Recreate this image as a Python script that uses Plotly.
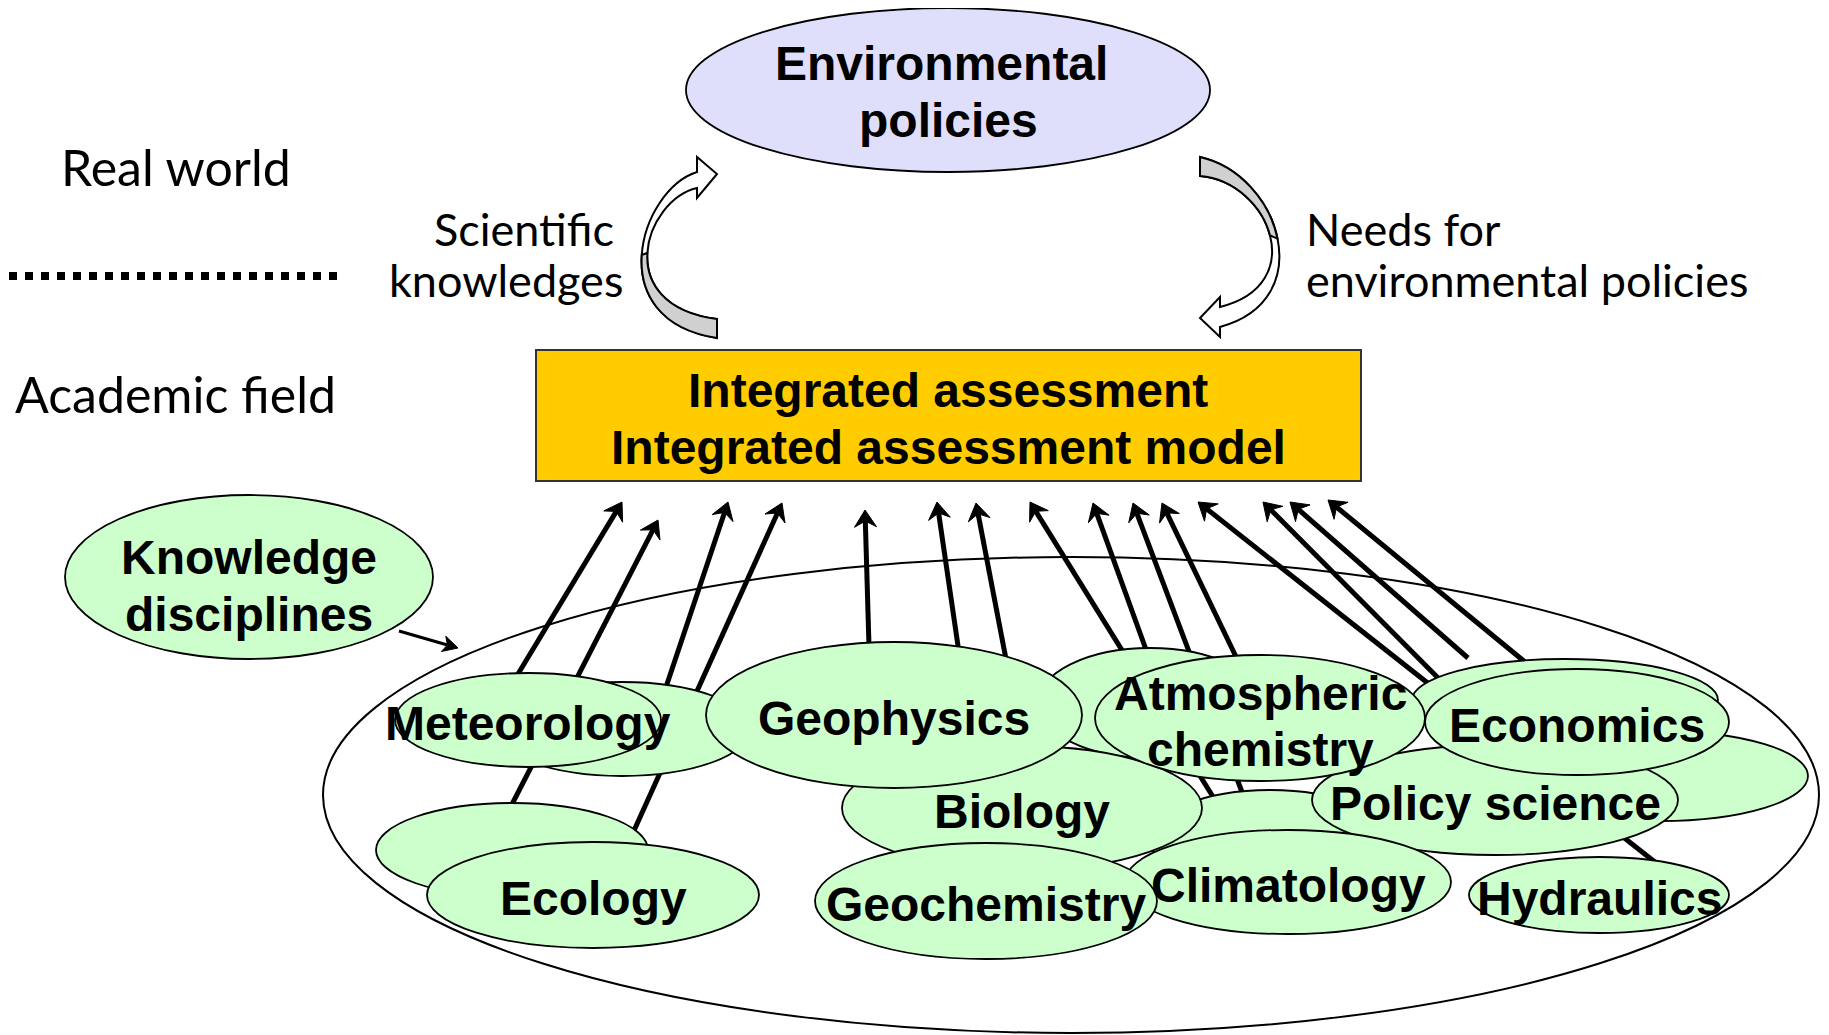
import math
import plotly.graph_objects as go

W, H = 1829, 1035
OFF = 8  # browser default body margin; the figure is shifted by this amount

# ---------------- text content ----------------
env_lines = ["Environmental", "policies"]
box_lines = ["Integrated assessment", "Integrated assessment model"]
side_labels = ["Real world", "Academic field"]
left_flow = ["Scientific", "knowledges"]
right_flow = ["Needs for", "environmental policies"]
kd_lines = ["Knowledge", "disciplines"]

# ---------------- discipline ellipses (back to front) ----------------
disc_label = ["", "Meteorology", "", "Ecology", "", "", "Biology", "Geophysics",
              "", "", "Policy science", "Atmospheric<br>chemistry", "Economics",
              "Climatology", "Geochemistry", "Hydraulics"]
disc_cx = [622, 528, 512, 593, 1150, 1270, 1022, 894, 1565, 1660, 1495, 1260, 1577, 1288, 986, 1599]
disc_cy = [729, 720, 850, 895, 703, 840, 808, 715, 700, 776, 800, 718, 722, 882, 901, 895]
disc_rx = [128, 133, 136, 166, 112, 120, 180, 188, 153, 148, 183, 165, 152, 163, 171, 130]
disc_ry = [47, 47, 47, 53, 55, 50, 62, 73, 41, 45, 55, 63, 53, 52, 58, 38]

# ---------------- arrows from disciplines to the IA box ----------------
arr_tip_x = [622, 658, 728, 782, 865, 937, 976, 1030, 1093, 1133, 1162, 1198, 1263, 1290, 1328]
arr_tip_y = [502, 520, 502, 503, 510, 502, 503, 502, 503, 503, 503, 502, 502, 502, 500]
arr_base_x = [498, 508, 660, 632, 870, 963, 1010, 1215, 1157, 1245, 1252, 1665, 1460, 1468, 1525]
arr_base_y = [707, 812, 705, 835, 680, 680, 680, 800, 680, 800, 690, 870, 700, 658, 662]

FONT_B = "Liberation Sans, Arial, sans-serif"
FONT_C = "Lato, Carlito, Calibri, sans-serif"

shapes = []
annotations = []


def ellipse(cx, cy, rx, ry, fill, lw=1.8, color="black"):
    return dict(type="circle", xref="x", yref="y", x0=cx - rx, x1=cx + rx,
                y0=cy - ry, y1=cy + ry, fillcolor=fill,
                line=dict(color=color, width=lw), layer="above")


def text(x, y, s, size, bold=True, xanchor="center", family=None):
    annotations.append(dict(x=x, y=y, xref="x", yref="y", text=(f"<b>{s}</b>" if bold else s),
                            showarrow=False, xanchor=xanchor, yanchor="middle",
                            font=dict(family=family or (FONT_B if bold else FONT_C),
                                      size=size, color="black")))


def head_path(tx, ty, bx, by, L=17, hw=11, notch=6):
    dx, dy = tx - bx, ty - by
    n = math.hypot(dx, dy)
    ux, uy = dx / n, dy / n
    px, py = -uy, ux
    cx, cy = tx - ux * L, ty - uy * L
    nx, ny = tx - ux * (L - notch), ty - uy * (L - notch)
    pts = [(tx, ty), (cx + px * hw, cy + py * hw), (nx, ny), (cx - px * hw, cy - py * hw)]
    return "M " + " L ".join(f"{x:.1f},{y:.1f}" for x, y in pts) + " Z", (nx, ny)


def arrow(bx, by, tx, ty, lw=5, L=17, hw=11, notch=6):
    p, (nx, ny) = head_path(tx, ty, bx, by, L, hw, notch)
    shapes.append(dict(type="line", xref="x", yref="y", x0=bx, y0=by, x1=nx, y1=ny,
                       line=dict(color="black", width=lw), layer="above"))
    shapes.append(dict(type="path", xref="x", yref="y", path=p, fillcolor="black",
                       line=dict(color="black", width=1), layer="above"))


# big container ellipse
shapes.append(dict(type="circle", xref="x", yref="y", x0=1071 - 748, x1=1071 + 748,
                   y0=795 - 238, y1=795 + 238, fillcolor="rgba(0,0,0,0)",
                   line=dict(color="black", width=2), layer="above"))

# discipline arrows (under the ellipses)
for bx, by, tx, ty in zip(arr_base_x, arr_base_y, arr_tip_x, arr_tip_y):
    arrow(bx, by, tx, ty)

# discipline ellipses
for cx, cy, rx, ry in zip(disc_cx, disc_cy, disc_rx, disc_ry):
    shapes.append(ellipse(cx, cy, rx, ry, "#CCFFCC"))
for lab, cx, cy in zip(disc_label, disc_cx, disc_cy):
    if not lab:
        continue
    parts = lab.split("<br>")
    n = len(parts)
    for i, part in enumerate(parts):
        text(cx, cy + 3 + (i - (n - 1) / 2) * 56, part, 48)

# Knowledge disciplines ellipse + small arrow
shapes.append(ellipse(249, 577, 184, 82, "#CCFFCC"))
text(249, 557, kd_lines[0], 48)
text(249, 614, kd_lines[1], 48)
arrow(399, 631, 458, 648, lw=3, L=15, hw=8, notch=4)

# Environmental policies ellipse
shapes.append(ellipse(948, 90, 262, 82, "#DFDFFC"))
text(941, 63, env_lines[0], 48)
text(948, 120, env_lines[1], 48)

# Integrated assessment box
shapes.append(dict(type="rect", xref="x", yref="y", x0=536, x1=1361, y0=350, y1=481,
                   fillcolor="#FFCC00", line=dict(color="#333333", width=2), layer="above"))
text(948, 390, box_lines[0], 48)
text(948, 447, box_lines[1], 48)

# side labels and dotted separator
text(59, 167, side_labels[0], 50, bold=False, xanchor="left")
text(13, 394, side_labels[1], 50, bold=False, xanchor="left")
shapes.append(dict(type="line", xref="x", yref="y", x0=9, x1=340, y0=276, y1=276,
                   line=dict(color="black", width=8, dash="8px,8px"), layer="above"))

# flow labels
text(616, 229, left_flow[0], 45, bold=False, xanchor="right")
text(625, 280, left_flow[1], 45, bold=False, xanchor="right")
text(1304, 229, right_flow[0], 45, bold=False, xanchor="left")
text(1304, 280, right_flow[1], 45, bold=False, xanchor="left")


# curved block arrows
def split(p0, p1, p2, p3, t=0.5):
    lerp = lambda a, b: (a[0] + (b[0] - a[0]) * t, a[1] + (b[1] - a[1]) * t)
    a, b, c = lerp(p0, p1), lerp(p1, p2), lerp(p2, p3)
    d, e = lerp(a, b), lerp(b, c)
    m = lerp(d, e)
    return (p0, a, d, m), (m, e, c, p3)


def fmt(p):
    return f"{p[0]:.1f},{p[1]:.1f}"


def block_arrow(outer, inner, head, gray_half):
    o1, o2 = split(*outer)
    i1, i2 = split(*inner)
    path = ("M " + fmt(outer[0]) + " C " + " ".join(fmt(p) for p in outer[1:]) +
            " L " + fmt(inner[3]) + " C " + " ".join(fmt(p) for p in (inner[2], inner[1], inner[0])) +
            " L " + " L ".join(fmt(p) for p in head) + " Z")
    shapes.append(dict(type="path", xref="x", yref="y", path=path, fillcolor="white",
                       line=dict(color="black", width=2), layer="above"))
    oh, ih = (o2, i2) if gray_half == 2 else (o1, i1)
    gp = ("M " + fmt(oh[0]) + " C " + " ".join(fmt(p) for p in oh[1:]) +
          " L " + fmt(ih[3]) + " C " + " ".join(fmt(p) for p in (ih[2], ih[1], ih[0])) + " Z")
    shapes.append(dict(type="path", xref="x", yref="y", path=gp, fillcolor="#D0D0D0",
                       line=dict(color="black", width=2), layer="above"))


block_arrow(outer=((697, 172), (640, 190), (600, 320), (717, 338)),
            inner=((697, 188), (645, 200), (610, 305), (717, 319)),
            head=[(697, 198), (717, 174), (697, 157)], gray_half=2)
block_arrow(outer=((1220, 327), (1320, 300), (1280, 175), (1200, 157)),
            inner=((1220, 307), (1310, 285), (1270, 182), (1200, 176)),
            head=[(1220, 297), (1200, 318), (1220, 337)], gray_half=2)

fig = go.Figure(go.Scatter(x=[OFF + 1], y=[OFF + 1], mode="markers", marker=dict(opacity=0),
                           hoverinfo="skip"))
fig.update_layout(width=W - OFF, height=H - OFF, margin=dict(l=0, r=0, t=0, b=0),
                  xaxis=dict(range=[OFF, W], visible=False, fixedrange=True),
                  yaxis=dict(range=[H, OFF], visible=False, fixedrange=True),
                  plot_bgcolor="white", paper_bgcolor="white", showlegend=False,
                  shapes=shapes, annotations=annotations)
fig.write_html("out.html")
